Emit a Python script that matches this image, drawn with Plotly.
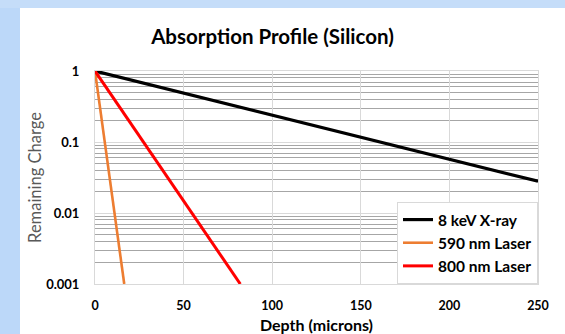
import plotly.graph_objects as go

# Data (straight lines on log scale: start and end points)
xray_depth = [0, 250]
xray_charge = [1, 0.028]
laser590_depth = [0, 16.5]
laser590_charge = [1, 0.001]
laser800_depth = [0, 82]
laser800_charge = [1, 0.001]

series_names = ["8 keV X-ray", "590 nm Laser", "800 nm Laser"]
y_tickvals = [0.001, 0.01, 0.1, 1]
y_ticktext = ["0.001", "0.01", "0.1", "1"]
x_tickvals = [0, 50, 100, 150, 200, 250]

FONT = "Lato"

fig = go.Figure()
fig.add_trace(go.Scatter(x=xray_depth, y=xray_charge, mode="lines", name=series_names[0],
                         line=dict(color="#000000", width=3.2)))
fig.add_trace(go.Scatter(x=laser590_depth, y=laser590_charge, mode="lines", name=series_names[1],
                         line=dict(color="#ed7d31", width=2.6)))
fig.add_trace(go.Scatter(x=laser800_depth, y=laser800_charge, mode="lines", name=series_names[2],
                         line=dict(color="#ff0000", width=3)))

L, R, T, B = 95, 27, 71, 50
W, H = 565, 334
pw, ph = W - L - R, H - T - B

def px_x(p):
    return (p - L) / pw

def px_y(p):
    return (H - B - p) / ph

BLUE = "#c5ddf9"

fig.update_layout(
    width=W, height=H,
    margin=dict(l=L, r=R, t=T, b=B, autoexpand=False),
    paper_bgcolor="white",
    plot_bgcolor="white",
    font=dict(family=FONT, color="#000000"),
    title=dict(text="<b>Absorption Profile (Silicon)</b>", x=272.5 / W, xanchor="center",
               xref="container", y=1 - 37 / H, yanchor="middle",
               font=dict(size=20.5, family=FONT, color="#000000")),
    showlegend=True,
    legend=dict(x=1, y=0, xanchor="right", yanchor="bottom",
                bgcolor="white", bordercolor="#d9d9d9", borderwidth=1,
                font=dict(size=15.5, family=FONT, color="#000000", weight="bold"),
                itemwidth=30, tracegroupgap=0, traceorder="normal"),
    xaxis=dict(range=[0, 250], tickvals=x_tickvals, showgrid=True, gridcolor="#d9d9d9",
               gridwidth=1, zeroline=False, showline=True, linecolor="#d9d9d9",
               mirror=True, ticks="", ticklabelstandoff=10, automargin=False,
               tickfont=dict(size=12.5, family=FONT, color="#000000", weight="bold"),
               title=dict(text="<b>Depth (microns)</b>", standoff=9,
                          font=dict(size=16, family=FONT, color="#000000"))),
    yaxis=dict(type="log", range=[-3, 0], tickvals=y_tickvals, ticktext=y_ticktext,
               showgrid=True, gridcolor="#d9d9d9", gridwidth=1, zeroline=False,
               showline=True, linecolor="#d9d9d9", mirror=True, ticks="",
               ticklabelstandoff=12, automargin=False,
               minor=dict(showgrid=True, gridcolor="#a6a6a6", gridwidth=1, dtick="D1", ticks=""),
               tickfont=dict(size=13, family=FONT, color="#000000", weight="bold"),
               title=dict(text="Remaining Charge", standoff=0,
                          font=dict(size=16.5, family=FONT, color="#595959"))),
    shapes=[
        dict(type="rect", xref="paper", yref="paper", layer="below",
             x0=px_x(0), x1=px_x(20), y0=px_y(H), y1=px_y(0),
             fillcolor="#bcd8f9", line=dict(width=0)),
        dict(type="rect", xref="paper", yref="paper", layer="below",
             x0=px_x(0), x1=px_x(W), y0=px_y(8), y1=px_y(0),
             fillcolor=BLUE, line=dict(width=0)),
    ],
)

fig.write_html("out.html", config={"displayModeBar": False})
